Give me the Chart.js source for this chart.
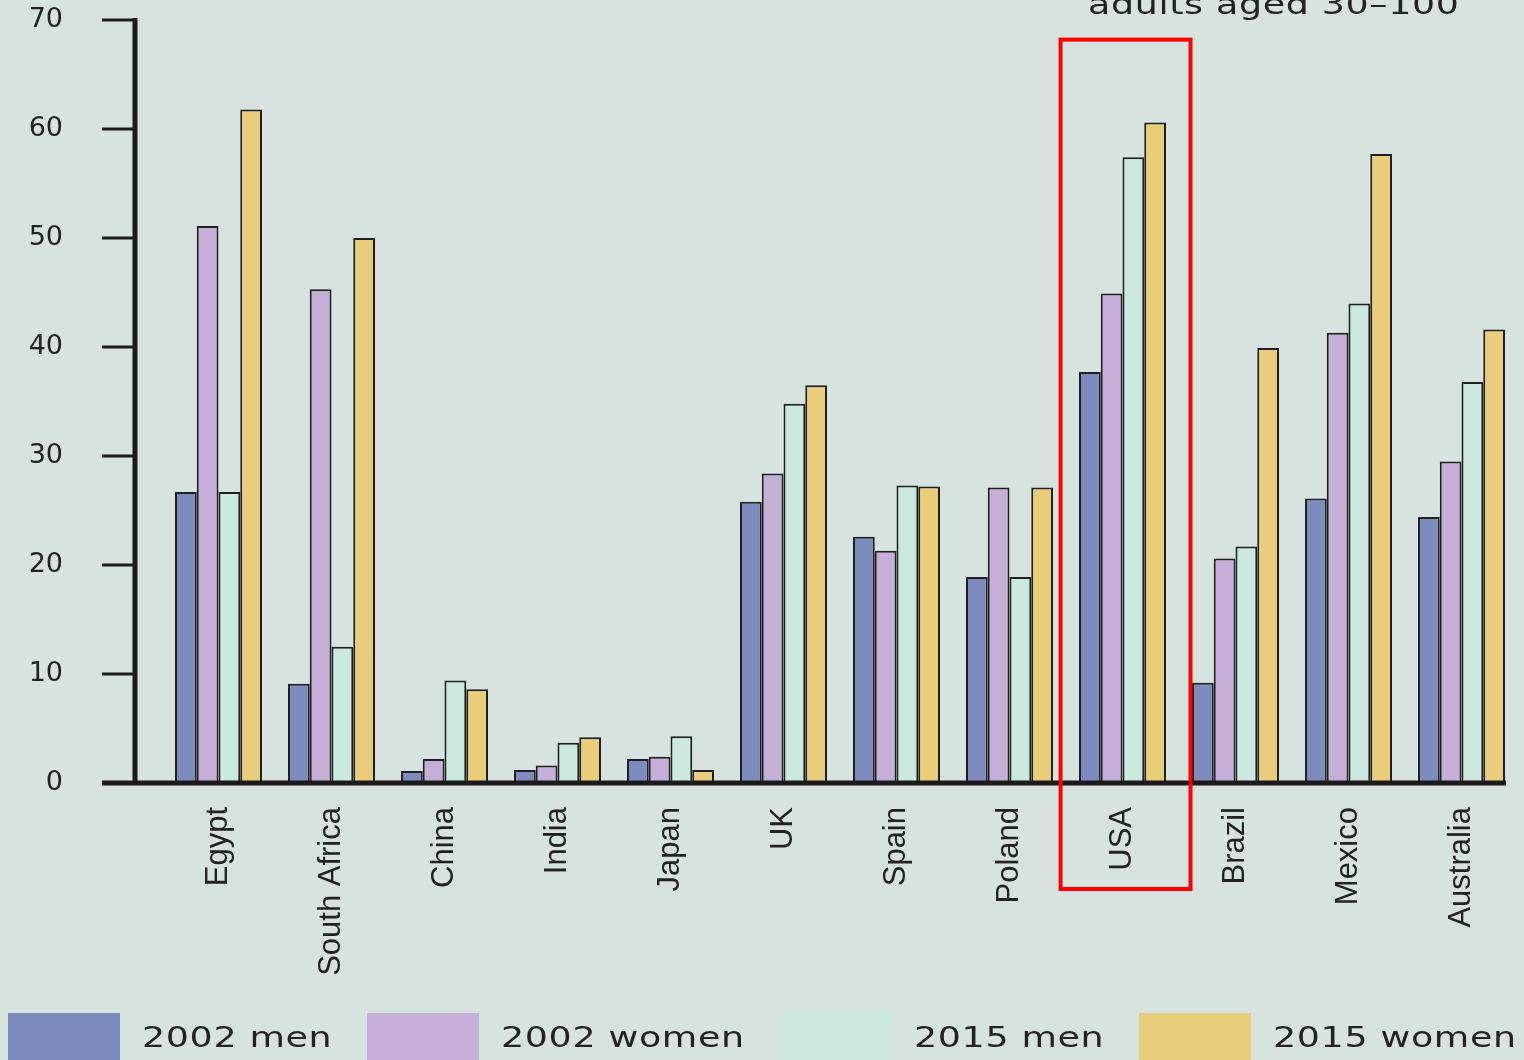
<!DOCTYPE html>
<html>
<head>
<meta charset="utf-8">
<script src="https://cdn.jsdelivr.net/npm/chart.js@4"></script>
<style>
html,body{margin:0;padding:0;background:#d6e3de;}
#wrap{position:relative;width:1524px;height:1060px;overflow:hidden;}
.txt{display:inline-block;font:28px "DejaVu Sans";letter-spacing:0.5px;line-height:28px;color:#222;white-space:nowrap;transform:scaleX(1.3);transform-origin:0 0;}
#title{position:absolute;left:1088px;top:-9px;}
#legend{position:absolute;left:8px;top:1013px;display:flex;}
.item{display:flex;align-items:flex-start;margin-right:35px;}
.box{width:112px;height:50px;flex:none;}
.lblwrap{margin-left:22px;margin-top:11px;overflow:visible;}
</style>
</head>
<body>
<div id="wrap">
<canvas id="chart" width="1524" height="1060"></canvas>
<div id="title"><span class="txt">adults aged 30–100</span></div>
<div id="legend"></div>
</div>
<script>
const countries=["Egypt","South Africa","China","India","Japan","UK","Spain","Poland","USA","Brazil","Mexico","Australia"];
const men2002=[26.7,9.1,1.1,1.2,2.2,25.8,22.6,18.9,37.7,9.2,26.1,24.4];
const women2002=[51.1,45.3,2.2,1.6,2.4,28.4,21.3,27.1,44.9,20.6,41.3,29.5];
const men2015=[26.7,12.5,9.4,3.7,4.3,34.8,27.3,18.9,57.4,21.7,44.0,36.8];
const women2015=[61.8,50.0,8.6,4.2,1.2,36.5,27.2,27.1,60.6,39.9,57.7,41.6];
const yTicks=[0,10,20,30,40,50,60,70];
const seriesNames=["2002 men","2002 women","2015 men","2015 women"];
const seriesColors=["#7d8bbf","#c5afd8","#cbe9df","#e9cd7b"];
const highlight="USA";

// legend built from the series lists
const legend=document.getElementById("legend");
seriesNames.forEach((n,k)=>{
const it=document.createElement("div");
it.className="item";
it.innerHTML='<div class="box" style="background:'+seriesColors[k]+'"></div><div class="lblwrap"><span class="txt">'+n+'</span></div>';
legend.appendChild(it);
const sp=it.querySelector(".txt");
it.querySelector(".lblwrap").style.width=sp.getBoundingClientRect().width+"px";
});

const axisPlugin={
id:"axisLines",
afterDatasetsDraw(chart){
const {ctx,chartArea,scales:{x,y}}=chart;
const ax=chartArea.left-27;
const y0=y.getPixelForValue(0);
ctx.save();
ctx.strokeStyle="#1b1b1b";
ctx.lineWidth=3;
yTicks.forEach(v=>{
const py=y.getPixelForValue(v);
ctx.beginPath();ctx.moveTo(ax-33,py);ctx.lineTo(ax,py);ctx.stroke();
});
ctx.lineWidth=5;
ctx.beginPath();ctx.moveTo(ax,y.getPixelForValue(70)-2);ctx.lineTo(ax,y0+2);ctx.stroke();
ctx.beginPath();ctx.moveTo(ax-33,y0);ctx.lineTo(chartArea.right-12,y0);ctx.stroke();

// red box round the highlighted country
const i=countries.indexOf(highlight);
const cw=x.getPixelForValue(1)-x.getPixelForValue(0);
const cx=x.getPixelForValue(i);
const top=y.getPixelForValue(68.2);
ctx.strokeStyle="#ff0000";
ctx.lineWidth=4;
ctx.strokeRect(cx-0.548*cw,top,1.15*cw,(chartArea.bottom+106)-top);
ctx.restore();
}
};

new Chart(document.getElementById("chart"),{
type:"bar",
data:{
labels:countries,
datasets:[men2002,women2002,men2015,women2015].map((d,k)=>({
label:seriesNames[k],
data:d,
backgroundColor:seriesColors[k],
borderColor:"#1f1f1f",
borderWidth:2,
borderSkipped:"bottom"
}))
},
options:{
responsive:false,
animation:false,
layout:{padding:{top:20,right:6,left:0,bottom:0}},
plugins:{legend:{display:false},tooltip:{enabled:false}},
datasets:{bar:{barPercentage:1,categoryPercentage:0.77}},
scales:{
x:{
grid:{display:false,drawTicks:false},
border:{display:false},
ticks:{autoSkip:false,minRotation:90,maxRotation:90,padding:24,color:"#222",
font:{family:'"Liberation Sans",sans-serif',size:31}},
afterFit(s){s.height=277;s.paddingLeft=0;s.paddingRight=0;}
},
y:{
min:0,max:70,
afterBuildTicks(s){s.ticks=yTicks.map(v=>({value:v}));},
grid:{display:false,drawTicks:false},
border:{display:false},
ticks:{padding:99,color:"#222",font:{family:'"DejaVu Sans"',size:27}},
afterFit(s){s.width=162;s.paddingTop=0;s.paddingBottom=0;}
}
}
},
plugins:[axisPlugin]
});
</script>
</body>
</html>
